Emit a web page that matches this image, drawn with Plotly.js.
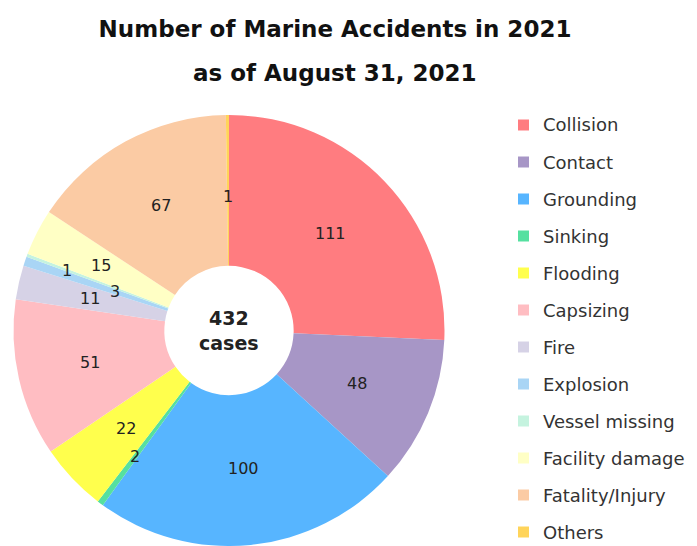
<!DOCTYPE html>
<html>
<head>
<meta charset="utf-8">
<script src="https://cdn.plot.ly/plotly-3.0.1.min.js"></script>
<style>html,body{margin:0;padding:0;background:#fff;}#chart{width:697px;height:546px;}</style>
</head>
<body>
<div id="chart"></div>
<script>
// ---- data ----
const labels = ["Collision","Contact","Grounding","Sinking","Flooding","Capsizing","Fire","Explosion","Vessel missing","Facility damage","Fatality/Injury","Others"];
const values = [111,48,100,2,22,51,11,3,1,15,67,1];
const colors = ["#FF7C80","#A796C6","#57B5FF","#55E0A0","#FFFF4D","#FFBDC2","#D6D2E6","#A9D5F5","#C5F3DF","#FFFFC5","#FBCBA4","#FFD45A"];
const titleLine1 = "Number of Marine Accidents in 2021";
const titleLine2 = "as of August 31, 2021";
const centerUnit = "cases";

// ---- style / layout ----
const W = 697, H = 546;
const dom = {x:[12/W, 446/W], y:[0, 431/H]};
const labelRadius = [0.65,0.645,0.645,0.73,0.66,0.66,0.66,0.56,0.80,0.665,0.66,0.62];
const font = "DejaVu Sans, Verdana, sans-serif";

const total = values.reduce((a,b)=>a+b,0);
const cx = W*(dom.x[0]+dom.x[1])/2;
const cy = H*(1-(dom.y[0]+dom.y[1])/2);
const R = Math.min(W*(dom.x[1]-dom.x[0]), H*(dom.y[1]-dom.y[0]))/2;

const annotations = [];
let cum = 0;
values.forEach((v,i)=>{
  const a = (cum + v/2)/total*2*Math.PI;
  cum += v;
  const px = cx + labelRadius[i]*R*Math.sin(a);
  const py = cy - labelRadius[i]*R*Math.cos(a);
  annotations.push({x:px/W, y:1-py/H, xref:'paper', yref:'paper', text:String(v), showarrow:false,
    xanchor:'center', yanchor:'middle', font:{family:font, size:16, color:'#222'}});
});
// center text
annotations.push({x:cx/W, y:1-cy/H, xref:'paper', yref:'paper', showarrow:false,
  text:'<b>'+total+'</b><br><b>'+centerUnit+'</b>', xanchor:'center', yanchor:'middle',
  font:{family:font, size:19, color:'#222'}});
// subtitle
annotations.push({x:335/W, y:1-73/H, xref:'paper', yref:'paper', showarrow:false,
  text:'<b>'+titleLine2+'</b>', xanchor:'center', yanchor:'middle',
  font:{family:font, size:23, color:'#111'}});

// legend (manual, to match row spacing)
const shapes = [];
labels.forEach((lab,i)=>{
  const yc = 125 + i*37;
  shapes.push({type:'rect', xref:'paper', yref:'paper', x0:518/W, x1:529/W,
    y0:1-(yc+5.5)/H, y1:1-(yc-5.5)/H, fillcolor:colors[i], line:{width:0}});
  annotations.push({x:541/W, y:1-yc/H, xref:'paper', yref:'paper', text:lab, showarrow:false,
    xanchor:'left', yanchor:'middle', font:{family:font, size:18, color:'#333'}});
});

const trace = {
  type:'pie', labels:labels, values:values, sort:false, direction:'clockwise', rotation:0,
  hole:0.3, domain:dom, marker:{colors:colors, line:{width:0}},
  textinfo:'none', hoverinfo:'label+value', showlegend:false
};

const layout = {
  width:W, height:H, margin:{l:0,r:0,t:0,b:0}, paper_bgcolor:'#fff', showlegend:false,
  title:{text:'<b>'+titleLine1+'</b>', x:335/W, xanchor:'center', y:1-29/H, yanchor:'middle',
    yref:'container', font:{family:font, size:23, color:'#111'}},
  annotations:annotations, shapes:shapes
};

Plotly.newPlot('chart',[trace],layout,{displayModeBar:false, staticPlot:true});
</script>
</body>
</html>
